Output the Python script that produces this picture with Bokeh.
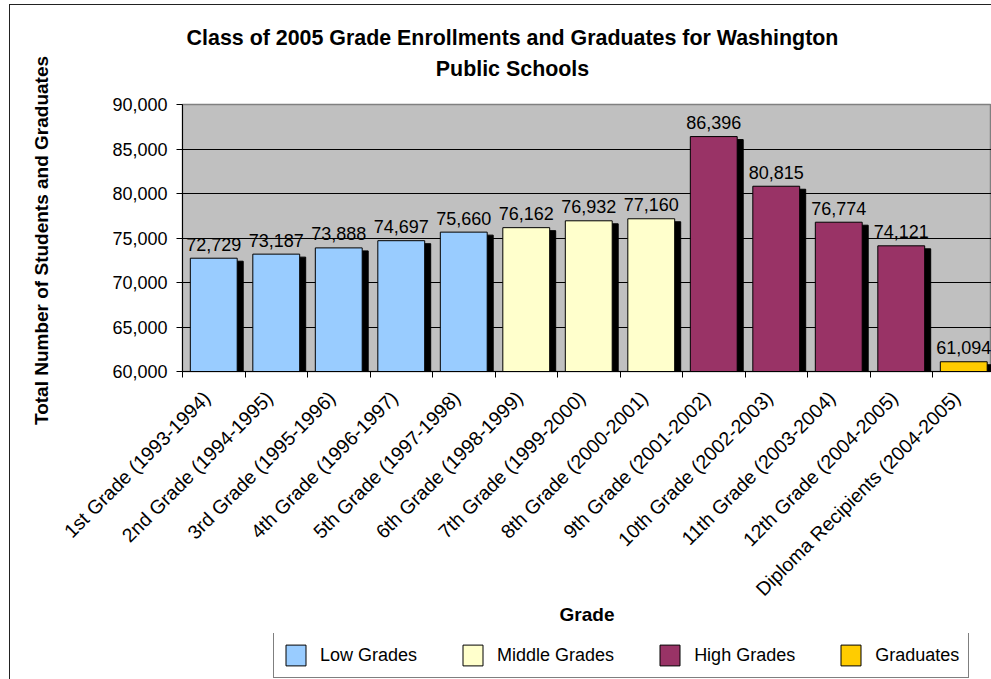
import math
from bokeh.plotting import figure
from bokeh.layouts import column, row
from bokeh.models import (Range1d, FixedTicker, NumeralTickFormatter, Legend, LegendItem,
                          ColumnDataSource, Label, InlineStyleSheet)
from bokeh.embed import file_html
from bokeh.resources import INLINE
from bokeh.core.properties import value

# ---------------- data ----------------
title_lines = ["Class of 2005 Grade Enrollments and Graduates for Washington",
               "Public Schools"]
y_title = "Total Number of Students and Graduates"
x_title = "Grade"

grades = ["1st Grade (1993-1994)", "2nd Grade (1994-1995)", "3rd Grade (1995-1996)",
          "4th Grade (1996-1997)", "5th Grade (1997-1998)", "6th Grade (1998-1999)",
          "7th Grade (1999-2000)", "8th Grade (2000-2001)", "9th Grade (2001-2002)",
          "10th Grade (2002-2003)", "11th Grade (2003-2004)", "12th Grade (2004-2005)",
          "Diploma Recipients (2004-2005)"]
enrollments = [72729, 73187, 73888, 74697, 75660, 76162, 76932, 77160,
               86396, 80815, 76774, 74121, 61094]
groups = ["Low Grades"] * 5 + ["Middle Grades"] * 3 + ["High Grades"] * 4 + ["Graduates"]

group_names = ["Low Grades", "Middle Grades", "High Grades", "Graduates"]
group_colors = ["#99CCFF", "#FFFFCC", "#993366", "#FFCC00"]

y_ticks = [60000, 65000, 70000, 75000, 80000, 85000, 90000]
y_min, y_max = 60000, 90000

# ---------------- layout ----------------
FONT = "Liberation Sans"
W_TOTAL, H_TOTAL = 991, 679
W_Y = 58                                    # strip holding the y-axis title
W = W_TOTAL - W_Y
H_TITLE, H_MAIN, H_LEG = 84, 549, 46
FRAME_LEFT = 182                            # page x of the plot area
ML, MT, MB = FRAME_LEFT - W_Y, 20, 262
frame_w = W - ML
frame_h = H_MAIN - MT - MB
cat_px = 62.5                               # pixel width of one category slot
x_end = frame_w / cat_px
bar_w = 0.75
shadow_dx = 6 / cat_px
shadow_dy = 3 * (y_max - y_min) / frame_h
label_shift = 7 / cat_px                    # nudge rotated labels left
MID = 7.6                                   # baseline -> text middle, px

# ---------------- y-title strip ----------------
yf = figure(width=W_Y, height=H_TOTAL, x_range=Range1d(0, W_Y), y_range=Range1d(0, H_TOTAL),
            output_backend="svg", toolbar_location=None, title=None,
            x_axis_type=None, y_axis_type=None, min_border=0)
yf.outline_line_color = None
yf.background_fill_color = "white"
yf.border_fill_color = "white"
yf.add_layout(Label(x=41, y=H_TOTAL - 240, text=y_title, angle=math.pi / 2,
                    text_align="center", text_baseline="middle",
                    text_font=FONT, text_font_style="bold", text_font_size="19px",
                    text_color="black"))

# ---------------- title strip ----------------
tf = figure(width=W, height=H_TITLE, x_range=Range1d(0, frame_w), y_range=Range1d(0, H_TITLE),
            output_backend="svg", toolbar_location=None, title=None,
            x_axis_type=None, y_axis_type=None, min_border=0,
            min_border_left=ML, min_border_right=0)
tf.outline_line_color = None
tf.background_fill_color = "white"
tf.border_fill_color = "white"
title_center_x = 512 - FRAME_LEFT
for txt, baseline in zip(title_lines, [45, 76]):
    tf.add_layout(Label(x=title_center_x, y=H_TITLE - baseline + MID, text=txt,
                        text_align="center", text_baseline="middle",
                        text_font=FONT, text_font_style="bold", text_font_size="21.4px",
                        text_color="black"))

# ---------------- main chart ----------------
p = figure(width=W, height=H_MAIN, x_range=Range1d(0, x_end), y_range=Range1d(y_min, y_max),
           output_backend="svg", toolbar_location=None, title=None,
           min_border_left=ML, min_border_right=0, min_border_top=MT, min_border_bottom=MB)

p.background_fill_color = "#C0C0C0"
p.border_fill_color = "white"
p.outline_line_color = "#808080"
p.outline_line_width = 1.5

# grid
p.xgrid.visible = False
p.ygrid.grid_line_color = "black"
p.ygrid.grid_line_width = 1

# y axis
p.yaxis.ticker = FixedTicker(ticks=y_ticks)
p.yaxis.formatter = NumeralTickFormatter(format="0,0")
p.yaxis.major_tick_out = 6
p.yaxis.major_tick_in = 0
p.yaxis.minor_tick_line_color = None
p.yaxis.axis_line_color = "black"
p.yaxis.major_tick_line_color = "black"
p.yaxis.major_label_standoff = 9
p.yaxis.major_label_text_font = FONT
p.yaxis.major_label_text_font_size = "18px"
p.yaxis.major_label_text_color = "black"

# x axis
xs = [i + 0.5 for i in range(len(grades))]
label_pos = [x - label_shift for x in xs]
p.xaxis.ticker = FixedTicker(ticks=label_pos, minor_ticks=list(range(len(grades) + 1)))
p.xaxis.major_label_overrides = {x: g for x, g in zip(label_pos, grades)}
p.xaxis.major_tick_out = 0
p.xaxis.major_tick_in = 0
p.xaxis.minor_tick_out = 6
p.xaxis.minor_tick_in = 0
p.xaxis.minor_tick_line_color = "black"
p.xaxis.axis_line_color = "black"
p.xaxis.major_label_orientation = math.pi / 4
p.xaxis.major_label_standoff = 17
p.xaxis.major_label_text_font = FONT
p.xaxis.major_label_text_font_size = "19.5px"
p.xaxis.major_label_text_color = "black"
p.xaxis.axis_label = x_title
p.xaxis.axis_label_text_font = FONT
p.xaxis.axis_label_text_font_style = "bold"
p.xaxis.axis_label_text_font_size = "19px"
p.xaxis.axis_label_text_color = "black"
p.xaxis.axis_label_standoff = -7

# shadows
shadow_src = ColumnDataSource(dict(x=[x + shadow_dx for x in xs],
                                   top=[v - shadow_dy for v in enrollments]))
p.vbar(x="x", top="top", bottom=y_min, width=bar_w, source=shadow_src,
       fill_color="black", line_color="black")

# bars
group_sources = []
for name, color in zip(group_names, group_colors):
    idx = [i for i, g in enumerate(groups) if g == name]
    src = ColumnDataSource(dict(x=[xs[i] for i in idx], top=[enrollments[i] for i in idx]))
    group_sources.append(src)
    p.vbar(x="x", top="top", bottom=y_min, width=bar_w, source=src,
           fill_color=color, line_color="black", line_width=1)

# value labels
lab_src = ColumnDataSource(dict(x=xs, y=enrollments, text=[f"{v:,}" for v in enrollments]))
p.text(x="x", y="y", text="text", source=lab_src, text_align="center",
       text_baseline="alphabetic", y_offset=-14, text_font=value(FONT),
       text_font_size="18px", text_color="black")

# ---------------- legend strip ----------------
lp = figure(width=W, height=H_LEG, x_range=Range1d(0, 1), y_range=Range1d(0, 1),
            output_backend="svg", toolbar_location=None, title=None,
            x_axis_type=None, y_axis_type=None, min_border=0,
            min_border_left=ML, min_border_right=0)
lp.outline_line_color = None
lp.background_fill_color = "white"
lp.border_fill_color = "white"
items = []
for name, color, src in zip(group_names, group_colors, group_sources):
    # same group data; lies outside this strip's ranges, only the legend swatch shows
    r = lp.vbar(x="x", top="top", bottom=y_min, width=bar_w, source=src,
                fill_color=color, line_color="black")
    items.append(LegendItem(label=name, renderers=[r]))
legend = Legend(items=items, location=(91, 1), orientation="horizontal",
                glyph_width=25, glyph_height=26, label_standoff=12, spacing=43,
                padding=9, margin=0, border_line_color="black", border_line_width=1.5,
                background_fill_color="white", background_fill_alpha=1,
                label_text_font=FONT, label_text_font_size="18px",
                label_text_color="black", label_height=26)
lp.add_layout(legend)

layout = row(yf, column(tf, p, lp, spacing=0), spacing=0)
# outer chart-area border (left/top)
layout.stylesheets = [InlineStyleSheet(css=(
    ":host::after { content: ''; position: absolute; left: 9px; top: 4px; right: 0; bottom: 0;"
    " border-left: 1px solid #222; border-top: 1px solid #222; pointer-events: none; z-index: 100; }"))]

open("out.html", "w").write(file_html(layout, INLINE))
